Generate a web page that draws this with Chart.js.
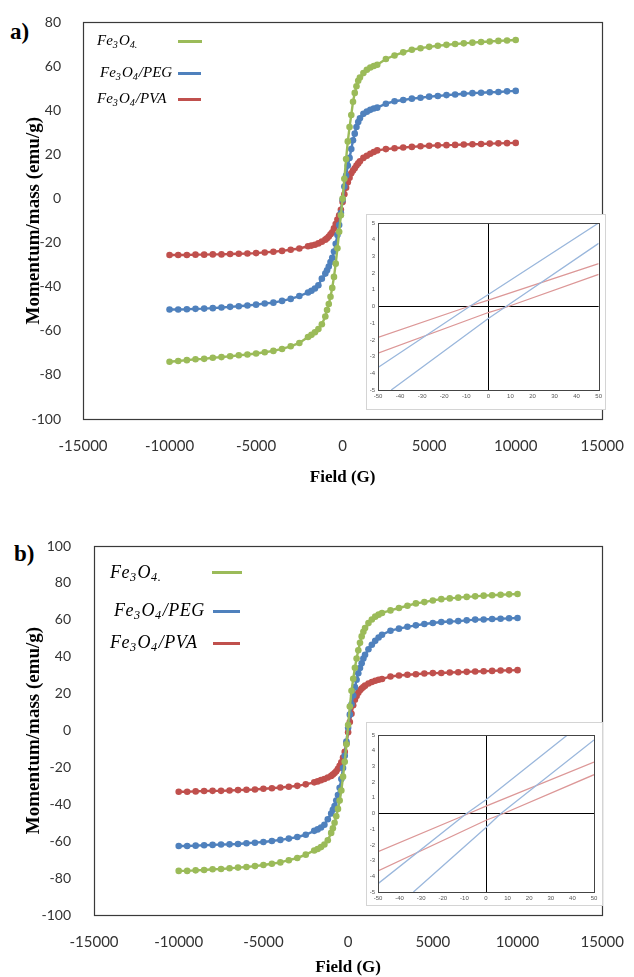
<!DOCTYPE html>
<html>
<head>
<meta charset="utf-8">
<script src="https://cdn.jsdelivr.net/npm/chart.js@4.4.1/dist/chart.umd.min.js"></script>
<style>
    body { margin: 0; background: #fff; }
    #wrap { position: relative; width: 634px; height: 977px; overflow: hidden; background: #fff; }
    .box { position: absolute; }
    .inset { position: absolute; border: 1px solid #d4d4d4; background: #fff; }
    .tag { position: absolute; font-family: "Liberation Serif", serif; font-weight: bold; font-size: 23px; color: #000; }
    .leg { position: absolute; font-family: "Liberation Serif", "DejaVu Serif", serif; font-style: italic; color: #000; white-space: nowrap; line-height: 1; }
    .leg sub { font-size: 0.68em; vertical-align: -0.25em; margin-right: 1px; }
    .swatch { position: absolute; height: 3px; }
</style>
</head>
<body>
<div id="wrap">
    <div class="tag" style="left:10px; top:19px;">a)</div>
    <div class="box" style="left:0; top:0;"><canvas id="mainA" width="634" height="500"></canvas></div>
    <div class="inset" style="left:366px; top:214px; width:238px; height:194px;"><canvas id="insetA" width="238" height="194"></canvas></div>

    <div class="tag" style="left:14px; top:541px;">b)</div>
    <div class="box" style="left:0; top:500px;"><canvas id="mainB" width="634" height="490"></canvas></div>
    <div class="inset" style="left:366px; top:722px; width:235px; height:182px;"><canvas id="insetB" width="235" height="182"></canvas></div>

    <!-- legends -->
    <div class="leg" style="left:97px; top:33px; font-size:15px;">Fe<sub>3</sub>O<sub>4.</sub></div>
    <div class="swatch" style="left:178px; top:40px; width:24px; background:#9bbb59;"></div>
    <div class="leg" style="left:100px; top:65px; font-size:15px;">Fe<sub>3</sub>O<sub>4</sub>/PEG</div>
    <div class="swatch" style="left:178px; top:72px; width:23px; background:#4f81bd;"></div>
    <div class="leg" style="left:97px; top:91px; font-size:15px;">Fe<sub>3</sub>O<sub>4</sub>/PVA</div>
    <div class="swatch" style="left:178px; top:98px; width:23px; background:#c0504d;"></div>

    <div class="leg" style="left:110px; top:563px; font-size:18px; letter-spacing:0.5px;">Fe<sub>3</sub>O<sub>4.</sub></div>
    <div class="swatch" style="left:212px; top:571px; width:30px; background:#9bbb59;"></div>
    <div class="leg" style="left:114px; top:601px; font-size:18px; letter-spacing:0.5px;">Fe<sub>3</sub>O<sub>4</sub>/PEG</div>
    <div class="swatch" style="left:213px; top:610px; width:27px; background:#4f81bd;"></div>
    <div class="leg" style="left:110px; top:633px; font-size:18px; letter-spacing:0.5px;">Fe<sub>3</sub>O<sub>4</sub>/PVA</div>
    <div class="swatch" style="left:213px; top:642px; width:27px; background:#c0504d;"></div>
</div>

<script>
// Field values (G), shared by every curve
const field = [-10000, -9500, -9000, -8500, -8000, -7500, -7000, -6500, -6000, -5500, -5000, -4500, -4000, -3500, -3000, -2500,
    -2000, -1800, -1600, -1400, -1200, -1000, -900, -800, -700, -600, -500, -400, -300, -200, -100,
    0, 100, 200, 300, 400, 500, 600, 700, 800, 900, 1000, 1200, 1400, 1600, 1800, 2000,
    2500, 3000, 3500, 4000, 4500, 5000, 5500, 6000, 6500, 7000, 7500, 8000, 8500, 9000, 9500, 10000];

// a) momentum/mass (emu/g)
const feA = [-74.0, -73.7, -73.3, -72.9, -72.7, -72.2, -71.9, -71.5, -71.1, -70.7, -70.3, -69.7, -69.1, -68.2, -67.0, -65.5,
    -62.8, -61.8, -60.6, -59.2, -57.0, -53.5, -50.5, -47.8, -44.5, -40.5, -35.5, -29.5, -22.5, -15.0, -7.5,
    0, 9, 18, 26, 32.5, 38, 44, 48, 51, 53.5, 55, 57, 58.5, 59.5, 60.2, 60.8,
    63.4, 65.0, 66.4, 67.6, 68.3, 68.9, 69.4, 69.8, 70.2, 70.5, 70.8, 71.1, 71.3, 71.6, 71.8, 72.0];
const pegA = [-50.3, -50.3, -50.2, -50.0, -49.9, -49.7, -49.4, -49.1, -48.8, -48.5, -48.1, -47.6, -47.2, -46.4, -45.5, -44.2,
    -42.6, -41.8, -40.8, -39.3, -36.3, -34.0, -32.5, -30.8, -28.8, -26.8, -24.0, -20.5, -16.5, -12.0, -6.5,
    -0.5, 5.5, 10.5, 15, 18.5, 22.5, 26.5, 29.5, 32.5, 34.8, 36.5, 38.5, 39.5, 40.3, 40.9, 41.3,
    43.1, 44.2, 44.8, 45.4, 45.8, 46.3, 46.6, 47.0, 47.3, 47.6, 47.9, 48.1, 48.3, 48.4, 48.7, 48.9];
const pvaA = [-25.6, -25.6, -25.6, -25.4, -25.4, -25.3, -25.3, -25.1, -25.0, -24.9, -24.7, -24.4, -24.1, -23.7, -23.2, -22.6,
    -21.6, -21.3, -20.9, -20.3, -19.5, -18.6, -18.0, -17.2, -16.2, -15.3, -13.5, -11.5, -9.5, -7.5, -5.0,
    -1.5, 2, 5, 7.5, 9.5, 11.5, 12.8, 13.8, 15, 16, 17, 18.5, 19.5, 20.4, 21.2, 21.9,
    22.5, 22.9, 23.2, 23.5, 23.8, 24.0, 24.2, 24.3, 24.4, 24.6, 24.7, 24.8, 25.0, 25.1, 25.2, 25.3];

// b) momentum/mass (emu/g)
const feB = [-76.1, -76.1, -75.8, -75.6, -75.2, -75.1, -74.7, -74.3, -74.0, -73.5, -72.9, -72.2, -71.5, -70.3, -69.1, -67.3,
    -65.0, -64.2, -63.2, -61.8, -59.5, -55.5, -53.0, -50.0, -46.5, -42.5, -38.0, -32.5, -25.0, -17.0, -7.5,
    3, 13, 21.5, 28, 34, 39, 43.5, 47.5, 51, 53.5, 55.5, 58.2, 60.2, 61.7, 62.8, 63.7,
    65.1, 66.4, 67.6, 68.9, 69.6, 70.5, 71.2, 71.6, 72.0, 72.4, 72.7, 73.1, 73.3, 73.6, 73.8, 74.0];
const pegB = [-62.6, -62.6, -62.4, -62.2, -62.0, -61.8, -61.7, -61.5, -61.1, -60.8, -60.4, -59.9, -59.3, -58.6, -57.7, -56.5,
    -54.4, -53.6, -52.6, -51.1, -48.1, -45.0, -43.0, -41.0, -38.0, -35.0, -31.0, -26.3, -20.3, -13.7, -6.0,
    1.5, 8.6, 14.2, 19, 23.5, 27.5, 31, 33.9, 36.4, 39, 41, 44, 46.5, 48.6, 50.4, 51.9,
    54.1, 55.2, 56.2, 57.0, 57.7, 58.3, 58.8, 59.1, 59.3, 59.7, 60.1, 60.2, 60.4, 60.6, 60.8, 61.0];
const pvaB = [-33.2, -33.2, -33.0, -32.8, -32.7, -32.7, -32.5, -32.3, -32.1, -32.0, -31.6, -31.3, -30.9, -30.5, -30.0, -29.2,
    -28.1, -27.6, -26.9, -26.3, -25.5, -24.6, -23.9, -23.1, -22.1, -20.7, -19.2, -17.2, -14.7, -11.6, -7.1,
    -1, 4.6, 9.1, 13.7, 16.7, 18.7, 20.5, 21.8, 22.8, 23.6, 24.3, 25.5, 26.3, 27.0, 27.5, 27.9,
    29.3, 29.8, 30.2, 30.5, 30.9, 31.1, 31.2, 31.4, 31.6, 31.8, 32.0, 32.1, 32.3, 32.5, 32.6, 32.7];

// insets: low field loops (x in G, y in emu/g)
const insAPegUpX = [-50, -8.5, 0, 50],   insAPegUpY = [-3.65, 0, 0.72, 5.0];
const insAPegDnX = [-44, 0, 8, 50],      insAPegDnY = [-5, -0.72, 0, 3.78];
const insAPvaUpX = [-50, -9, 0, 50],     insAPvaUpY = [-1.85, 0, 0.38, 2.57];
const insAPvaDnX = [-50, 0, 9, 50],      insAPvaDnY = [-2.8, -0.36, 0, 1.93];

const insBPegUpX = [-50, -9, 0, 37.7],   insBPegUpY = [-4.47, 0, 0.87, 5.0];
const insBPegDnX = [-33.6, 0, 6.9, 50],  insBPegDnY = [-5, -0.89, 0, 4.68];
const insBPvaUpX = [-50, -8, 0, 50],     insBPvaUpY = [-2.43, 0, 0.47, 3.28];
const insBPvaDnX = [-50, 0, 8.1, 50],    insBPvaDnY = [-3.66, -0.43, 0, 2.47];

const GREEN = '#9bbb59', BLUE = '#4f81bd', RED = '#c0504d';
const LBLUE = '#9ab7dc', LRED = '#dc9797';

// box round the plot area
const framePlugin = {
    id: 'frame',
    afterDraw(chart, args, opts) {
        const a = chart.chartArea, ctx = chart.ctx;
        ctx.save();
        ctx.strokeStyle = opts.color || '#333';
        ctx.lineWidth = opts.width || 1;
        ctx.strokeRect(Math.round(a.left) + 0.5, Math.round(a.top) + 0.5, Math.round(a.width), Math.round(a.height));
        ctx.restore();
    }
};

// plain numbers, no thousands separator
const plain = v => String(v);

function pts(xs, ys) { return xs.map((x, i) => ({ x: x, y: ys[i] })); }

function curve(color, ys, order) {
    return {
        data: pts(field, ys), showLine: true, order: order,
        borderColor: color, backgroundColor: color, borderWidth: 2.4,
        pointRadius: 3.3, pointBorderWidth: 0, pointBackgroundColor: color
    };
}

function drawMain(id, cfg) {
    new Chart(document.getElementById(id), {
        type: 'scatter',
        data: { datasets: [curve(GREEN, cfg.fe, 0), curve(BLUE, cfg.peg, 1), curve(RED, cfg.pva, 2)] },
        options: {
            responsive: false, animation: false,
            layout: { padding: { left: 0, top: cfg.top, right: cfg.right, bottom: 0 } },
            plugins: { legend: { display: false }, tooltip: { enabled: false }, frame: { color: '#3a3a3a', width: 1.2 } },
            scales: {
                x: {
                    type: 'linear', min: -15000, max: 15000,
                    grid: { display: false }, border: { display: false },
                    ticks: { stepSize: 5000, maxRotation: 0, autoSkip: false, padding: cfg.xPad, color: '#333', font: { family: 'Lato', size: 15 }, callback: plain },
                    title: { display: true, text: 'Field (G)', color: '#000', font: { family: 'Liberation Serif', weight: 'bold', size: 17 }, padding: { top: 0, bottom: 12 } },
                    afterFit: s => { s.height = cfg.xH; }
                },
                y: {
                    min: cfg.ymin, max: cfg.ymax,
                    grid: { display: false }, border: { display: false },
                    ticks: { stepSize: 20, padding: cfg.yPad, color: '#333', font: { family: 'Lato', size: 14 }, callback: plain },
                    title: { display: true, text: 'Momentum/mass (emu/g)', color: '#000', font: { family: 'Liberation Serif', weight: 'bold', size: 19 }, padding: { top: 23, bottom: 0 } },
                    afterFit: s => { s.width = cfg.yW; }
                }
            }
        },
        plugins: [framePlugin]
    });
}

function line(color, xs, ys) {
    return { data: pts(xs, ys), showLine: true, borderColor: color, borderWidth: 1.3, pointRadius: 0, tension: 0 };
}

function drawInset(id, cfg) {
    const zero = c => c.tick.value === 0 ? '#000' : 'rgba(0,0,0,0)';
    const tickFont = { family: 'Liberation Sans', size: 6 };
    new Chart(document.getElementById(id), {
        type: 'scatter',
        data: { datasets: cfg.sets },
        options: {
            responsive: false, animation: false,
            layout: { padding: { left: 0, top: cfg.top, right: cfg.right, bottom: 0 } },
            plugins: { legend: { display: false }, tooltip: { enabled: false }, frame: { color: '#444', width: 1 } },
            scales: {
                x: {
                    type: 'linear', min: -50, max: 50,
                    grid: { color: zero, drawTicks: false, lineWidth: 1 }, border: { display: false },
                    ticks: { stepSize: 10, maxRotation: 0, autoSkip: false, padding: 3, color: '#555', font: tickFont, callback: plain },
                    afterFit: s => { s.height = cfg.xH; }
                },
                y: {
                    min: -5, max: 5,
                    grid: { color: zero, drawTicks: false, lineWidth: 1 }, border: { display: false },
                    ticks: { stepSize: 1, autoSkip: false, padding: 3, color: '#555', font: tickFont, callback: plain },
                    afterFit: s => { s.width = cfg.yW; }
                }
            }
        },
        plugins: [framePlugin]
    });
}

drawMain('mainA', { fe: feA, peg: pegA, pva: pvaA, ymin: -100, ymax: 80, top: 19, right: 22, xH: 81, yW: 83, xPad: 10, yPad: 14 });
drawMain('mainB', { fe: feB, peg: pegB, pva: pvaB, ymin: -100, ymax: 100, top: 46, right: 27, xH: 75, yW: 94, xPad: 10, yPad: 15 });

drawInset('insetA', {
    top: 8, right: 6, xH: 19, yW: 11,
    sets: [line(LBLUE, insAPegUpX, insAPegUpY), line(LBLUE, insAPegDnX, insAPegDnY), line(LRED, insAPvaUpX, insAPvaUpY), line(LRED, insAPvaDnX, insAPvaDnY)]
});
drawInset('insetB', {
    top: 12, right: 8, xH: 13, yW: 11,
    sets: [line(LBLUE, insBPegUpX, insBPegUpY), line(LBLUE, insBPegDnX, insBPegDnY), line(LRED, insBPvaUpX, insBPvaUpY), line(LRED, insBPvaDnX, insBPvaDnY)]
});
</script>
</body>
</html>
